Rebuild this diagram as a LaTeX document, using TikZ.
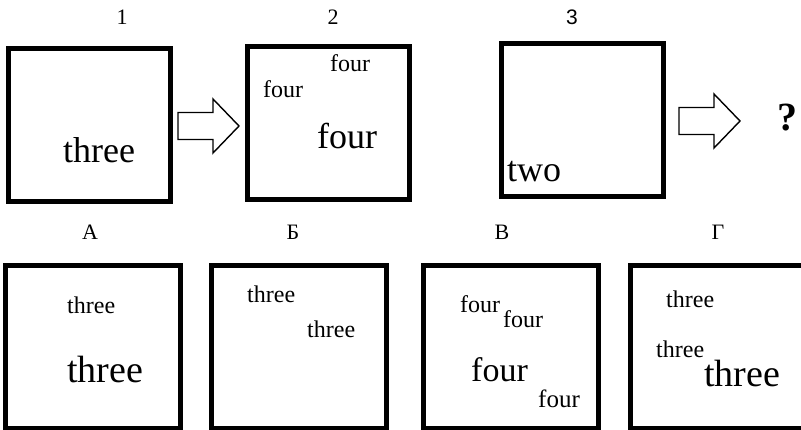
\documentclass[tikz,border=0pt]{standalone}
\usepackage{fontspec}
\setmainfont{Liberation Serif}
\newfontfamily\numsans{Liberation Sans}

\newcommand\fsz[1]{\fontsize{#1}{#1}\selectfont}

\begin{document}
\begin{tikzpicture}[x=1pt,y=-1pt,
  panel/.style={draw,line width=5pt,inner sep=0pt},
  toppanel/.style={panel,minimum width=162pt,minimum height=153pt},
  lowpanel/.style={panel,minimum width=175pt,minimum height=163pt},
  word/.style={inner sep=0pt,anchor=base west},
  lbl/.style={inner sep=0pt,font=\fsz{22}},
  blockarrow/.pic={\draw[line width=1.4pt] (0,-13.5) -- (35,-13.5) -- (35,-27)
    -- (61,0) -- (35,27) -- (35,13.5) -- (0,13.5) -- cycle;}]
  \useasboundingbox (0,0) rectangle (801,430);
  \clip (0,0) rectangle (801,430);

  \node[toppanel] (p1) at (89,125.5) {};
  \node[toppanel] (p2) at (328.5,123.5) {};
  \node[toppanel] (p3) at (582.5,120.5) {};
  \node[lbl] (n1) at (122,17) {1};
  \node[lbl] (n2) at (333,17) {2};
  \node[lbl,font=\numsans\fsz{21}] (n3) at (572,17) {3};

  \node[word,font=\fsz{36}] (p1w) at (63,163) {three};
  \node[word,font=\fsz{24}] (p2a) at (330,72) {four};
  \node[word,font=\fsz{24}] (p2b) at (263,98) {four};
  \node[word,font=\fsz{36}] (p2c) at (317,149) {four};
  \node[word,font=\fsz{36}] (p3w) at (507,182) {two};

  \coordinate (a1) at (178,126);
  \coordinate (a2) at (679,121);
  \pic at (a1) {blockarrow};
  \pic at (a2) {blockarrow};
  \node[inner sep=0pt,font=\bfseries\fsz{40}] (q) at (787,118) {?};

  \node[lowpanel] (oA) at (93,347) {};
  \node[lowpanel] (oB) at (298.5,347) {};
  \node[lowpanel] (oV) at (510.5,347) {};
  \node[lowpanel] (oG) at (717.5,347) {};
  \node[lbl] (lA) at (90,232) {А};
  \node[lbl] (lB) at (293,232) {Б};
  \node[lbl] (lV) at (502,232) {В};
  \node[lbl] (lG) at (718,232) {Г};

  \node[word,font=\fsz{24}] (oA1) at (67,314) {three};
  \node[word,font=\fsz{38}] (oA2) at (67,383) {three};
  \node[word,font=\fsz{24}] (oB1) at (247,303) {three};
  \node[word,font=\fsz{24}] (oB2) at (307,338) {three};
  \node[word,font=\fsz{24}] (oV1) at (460,313) {four};
  \node[word,font=\fsz{24}] (oV2) at (503,328) {four};
  \node[word,font=\fsz{34}] (oV3) at (471,382) {four};
  \node[word,font=\fsz{25}] (oV4) at (538,408) {four};
  \node[word,font=\fsz{24}] (oG1) at (666,308) {three};
  \node[word,font=\fsz{24}] (oG2) at (656,358) {three};
  \node[word,font=\fsz{38}] (oG3) at (704,387) {three};
\end{tikzpicture}
\end{document}
